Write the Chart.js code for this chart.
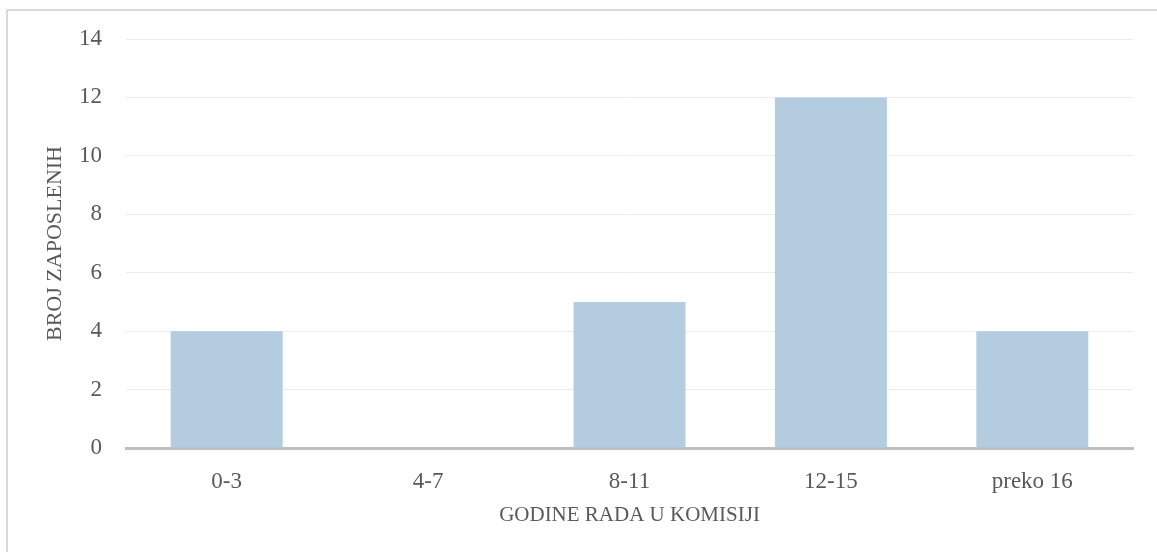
<!DOCTYPE html>
<html>
<head>
<meta charset="utf-8">
<script src="https://cdn.jsdelivr.net/npm/chart.js@4/dist/chart.umd.min.js"></script>
<style>
  html, body { margin: 0; padding: 0; background: #ffffff; }
  #wrap { width: 1157px; height: 552px; position: relative; }
</style>
</head>
<body>
<div id="wrap"><canvas id="c" width="1157" height="552"></canvas></div>
<script>
const categories = ['0-3', '4-7', '8-11', '12-15', 'preko 16'];
const employees = [4, 0, 5, 12, 4];
const yTicks = [0, 2, 4, 6, 8, 10, 12, 14];
const xTitle = 'GODINE RADA U KOMISIJI';
const yTitle = 'BROJ ZAPOSLENIH';

const frame = {
  id: 'frame',
  beforeDraw(chart) {
    const ctx = chart.ctx;
    ctx.save();
    ctx.fillStyle = '#ffffff';
    ctx.fillRect(0, 0, chart.width, chart.height);
    ctx.fillStyle = '#d9d9d9';
    ctx.fillRect(6, 9, 2, chart.height - 9);
    ctx.fillRect(6, 9, chart.width - 6, 2);
    ctx.restore();
  }
};

new Chart(document.getElementById('c'), {
  type: 'bar',
  data: {
    labels: categories,
    datasets: [{
      data: employees,
      backgroundColor: 'rgb(180,204,224)',
      borderWidth: 0,
      categoryPercentage: 1,
      barPercentage: 0.556
    }]
  },
  options: {
    responsive: false,
    animation: false,
    events: [],
    layout: { padding: { left: 40, right: 24, top: 39, bottom: 0 } },
    plugins: { legend: { display: false }, tooltip: { enabled: false }, title: { display: false } },
    scales: {
      x: {
        afterFit(axis) { axis.height = 104; },
        grid: { display: false, drawTicks: false },
        border: { display: true, color: '#bfbfbf', width: 3 },
        ticks: { color: '#595959', padding: 20, font: { family: 'Liberation Serif', size: 23 } },
        title: { display: true, text: xTitle, color: '#595959', padding: { top: 0, bottom: 24 },
                 font: { family: 'Liberation Serif', size: 21 } }
      },
      y: {
        min: 0, max: 14,
        afterBuildTicks(axis) { axis.ticks = yTicks.map(v => ({ value: v })); },
        afterFit(axis) { axis.width = 86; },
        grid: { color: '#ececec', lineWidth: 1, drawTicks: false },
        border: { display: false },
        ticks: { color: '#595959', padding: 24, font: { family: 'Liberation Serif', size: 23 } },
        title: { display: true, text: yTitle, color: '#595959', padding: { top: 2, bottom: 0 },
                 font: { family: 'Liberation Serif', size: 22 } }
      }
    }
  },
  plugins: [frame]
});
</script>
</body>
</html>
